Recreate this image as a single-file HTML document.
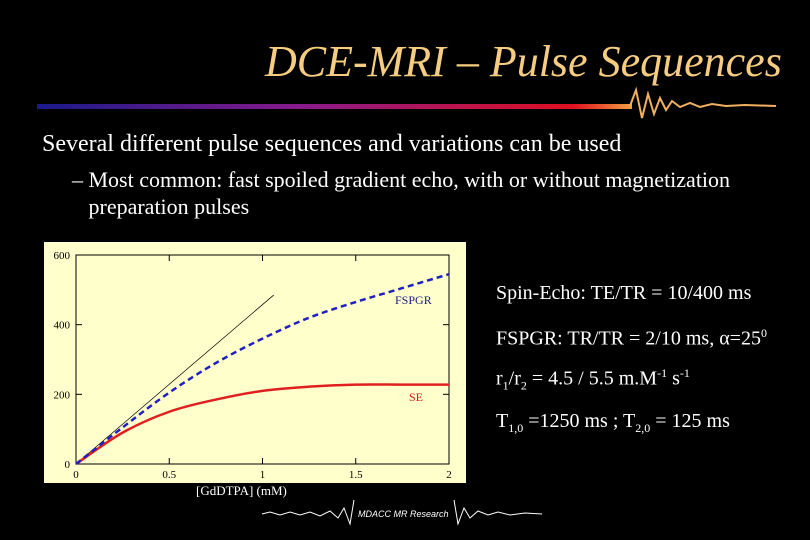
<!DOCTYPE html>
<html><head><meta charset="utf-8"><style>
body{margin:0;background:#000;width:810px;height:540px;overflow:hidden;position:relative;font-family:"Liberation Serif",serif;color:#fff}
.a{position:absolute;white-space:nowrap}
</style></head><body>
<div class="a" style="left:265px;top:36px;font-size:44px;font-style:italic;color:#f6cc80">DCE-MRI – Pulse Sequences</div>
<svg class="a" style="left:0;top:0" width="810" height="540">
<defs><linearGradient id="g" x1="0" x2="1"><stop offset="0" stop-color="#1a1a8a"/><stop offset="0.45" stop-color="#8a1a8a"/><stop offset="0.9" stop-color="#e01020"/><stop offset="1" stop-color="#f0a040"/></linearGradient></defs>
<rect x="37" y="104" width="595" height="5" fill="url(#g)"/>
<polyline fill="none" stroke="#f0b060" stroke-width="2" points="630,106 636,90 642,118 648,94 654,114 660,98 666,110 672,101 680,107 690,103 700,107 712,104 726,106 745,105 776,106"/>
<polyline fill="none" stroke="#fff" stroke-width="1" points="262,514 270,512 280,515 290,512 300,515 310,512 320,516 330,511 338,518 344,508 350,524 354,500"/>
<polyline fill="none" stroke="#fff" stroke-width="1" points="454,500 458,524 464,508 470,518 478,511 488,515 498,512 510,515 525,513 542,514"/>
</svg>
<div class="a" style="left:42px;top:131px;font-size:24px">Several different pulse sequences and variations can be used</div>
<div class="a" style="left:72px;top:166px;font-size:22px;line-height:27px">– Most common: fast spoiled gradient echo, with or without magnetization<br>&nbsp;&nbsp;&nbsp;preparation pulses</div>
<svg class="a" id="c" style="left:0;top:0" width="810" height="540"></svg>
<div class="a" style="left:196px;top:483px;font-size:13px">[GdDTPA] (mM)</div>
<div class="a" style="left:358px;top:509px;font-size:9px;font-family:'Liberation Sans',sans-serif;font-style:italic">MDACC MR Research</div>
<div class="a" style="left:496px;top:282px;font-size:20px">Spin-Echo: TE/TR = 10/400 ms</div>
<div class="a" style="left:496px;top:326px;font-size:20px">FSPGR: TR/TR = 2/10 ms, α=25<sup style="font-size:12px">0</sup></div>
<div class="a" style="left:496px;top:366px;font-size:20px">r<sub style="font-size:12px">1</sub>/r<sub style="font-size:12px">2</sub> = 4.5 / 5.5 m.M<sup style="font-size:12px">-1</sup> s<sup style="font-size:12px">-1</sup></div>
<div class="a" style="left:496px;top:410px;font-size:20px">T<sub style="font-size:12px">1,0</sub> =1250 ms ; T<sub style="font-size:12px">2,0</sub> = 125 ms</div>
<script>
const xs=[0,0.25,0.5,0.75,1,1.25,1.5,1.75,2];
const fspgr=[0,105,205,290,360,420,465,505,545];
const se=[0,90,150,185,210,222,228,228,228];
const tangentX=[0,1.06];
const tangentY=[0,485];
const xTicks=[0,0.5,1,1.5,2];
const xTickLabels=["0","0.5","1","1.5","2"];
const yTicks=[0,200,400,600];
const yTickLabels=["0","200","400","600"];
const svg=document.getElementById('c');
const X=v=>76+v*(449-76)/2, Y=v=>464-v*(464-255)/600;
const NS='http://www.w3.org/2000/svg';
function mk(t,a,name){const e=document.createElementNS(NS,t);for(const k in a)e.setAttribute(k,a[k]);


svg.appendChild(e);return e;}
mk('rect',{x:44,y:242,width:422,height:241,fill:'#ffffcc'},'plot-background');
mk('rect',{x:X(0),y:Y(600),width:X(2)-X(0),height:Y(0)-Y(600),fill:'none',stroke:'#000','stroke-width':1},'plot-frame');
xTicks.forEach((t,i)=>{mk('line',{x1:X(t),x2:X(t),y1:Y(0),y2:Y(0)-6,stroke:'#000'},'x-tick');
mk('line',{x1:X(t),x2:X(t),y1:Y(600),y2:Y(600)+6,stroke:'#000'},'x-tick-top');
const tx=mk('text',{x:X(t),y:Y(0)+14,'font-size':11,'text-anchor':'middle',fill:'#000','font-family':'Liberation Serif'},'x-tick-label');tx.textContent=xTickLabels[i];});
yTicks.forEach((t,i)=>{mk('line',{x1:X(0),x2:X(0)+6,y1:Y(t),y2:Y(t),stroke:'#000'},'y-tick');
mk('line',{x1:X(2),x2:X(2)-6,y1:Y(t),y2:Y(t),stroke:'#000'},'y-tick-right');
const tx=mk('text',{x:X(0)-6,y:Y(t)+4,'font-size':11,'text-anchor':'end',fill:'#000','font-family':'Liberation Serif'},'y-tick-label');tx.textContent=yTickLabels[i];});
const yt=mk('text',{x:0,y:0,'font-size':12,'text-anchor':'middle',fill:'#000','font-family':'Liberation Serif',transform:'translate(38,'+Y(300)+') rotate(-90)'},'y-axis-title');
yt.innerHTML='(S - S<tspan dy="3" font-size="8">0</tspan><tspan dy="-3">) / S</tspan><tspan dy="3" font-size="8">0</tspan><tspan dy="-3">  (%)</tspan>';
mk('line',{x1:X(tangentX[0]),y1:Y(tangentY[0]),x2:X(tangentX[1]),y2:Y(tangentY[1]),stroke:'#000','stroke-width':0.7},'initial-slope-line');
function smooth(ys){let d='M'+X(xs[0])+','+Y(ys[0]);for(let i=0;i<xs.length-1;i++){const p0=i>0?i-1:i,p3=i+2<xs.length?i+2:i+1;
const c1x=X(xs[i])+(X(xs[i+1])-X(xs[p0]))/6,c1y=Y(ys[i])+(Y(ys[i+1])-Y(ys[p0]))/6;
const c2x=X(xs[i+1])-(X(xs[p3])-X(xs[i]))/6,c2y=Y(ys[i+1])-(Y(ys[p3])-Y(ys[i]))/6;
d+=' C'+c1x+','+c1y+' '+c2x+','+c2y+' '+X(xs[i+1])+','+Y(ys[i+1]);}return d;}
mk('path',{d:smooth(se),fill:'none',stroke:'#e02020','stroke-width':2.5},'se-line');
mk('path',{d:smooth(fspgr),fill:'none',stroke:'#2020c0','stroke-width':2.5,'stroke-dasharray':'6,4'},'fspgr-line');
let t=mk('text',{x:395,y:304,'font-size':12,fill:'#1a1a80','font-family':'Liberation Serif'},'fspgr-label');t.textContent='FSPGR';
t=mk('text',{x:409,y:401,'font-size':12,fill:'#c02020','font-family':'Liberation Serif'},'se-label');t.textContent='SE';
</script>
</body></html>
